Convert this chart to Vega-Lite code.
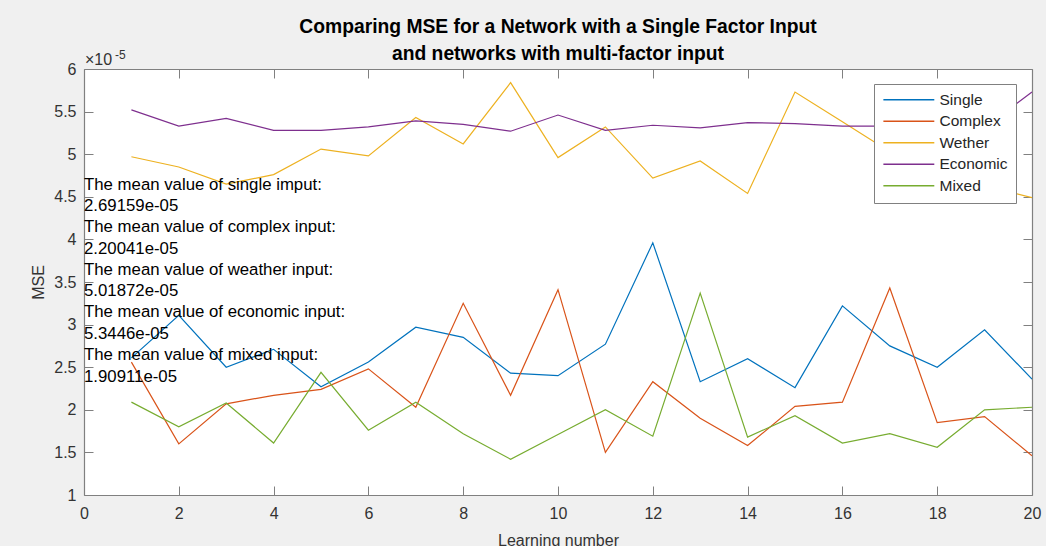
{
  "$schema": "https://vega.github.io/schema/vega-lite/v6.json",
  "width": 948,
  "height": 426,
  "autosize": "none",
  "padding": {"left": 84, "top": 69, "right": 14, "bottom": 51},
  "background": "#f0f0f0",
  "title": {
    "text": ["Comparing MSE for a Network with a Single Factor Input", "and networks with multi-factor input"],
    "font": "Liberation Sans",
    "fontSize": 19.3,
    "fontWeight": "bold",
    "color": "#000000",
    "anchor": "middle",
    "frame": "group",
    "lineHeight": 26.7,
    "offset": -15
  },
  "resolve": {"axis": {"x": "independent", "y": "independent"}},
  "config": {
    "view": {"fill": "white", "stroke": null},
    "axis": {
      "grid": false,
      "labelFlush": false,
      "domainColor": "#808080",
      "domainWidth": 1.2,
      "tickColor": "#808080",
      "tickWidth": 1,
      "tickSize": -9,
      "labelFont": "Liberation Sans",
      "labelFontSize": 16,
      "labelColor": "#333333",
      "titleFont": "Liberation Sans",
      "titleFontSize": 16,
      "titleFontWeight": "normal",
      "titleColor": "#333333"
    },
    "legend": {
      "orient": "none",
      "legendX": 790,
      "legendY": 15,
      "padding": 8,
      "fillColor": "white",
      "strokeColor": "#808080",
      "symbolType": "M-1,0H7",
      "symbolSize": 162,
      "symbolStrokeWidth": 1.5,
      "labelFont": "Liberation Sans",
      "labelFontSize": 15.5,
      "labelColor": "#262626",
      "labelOffset": 42,
      "rowPadding": 4.5,
      "title": null
    }
  },
  "layer": [
    {
      "data": {
        "values": [
          {"n": 1, "series": "Single", "mse": 2.61},
          {"n": 2, "series": "Single", "mse": 3.11},
          {"n": 3, "series": "Single", "mse": 2.50},
          {"n": 4, "series": "Single", "mse": 2.71},
          {"n": 5, "series": "Single", "mse": 2.27},
          {"n": 6, "series": "Single", "mse": 2.56},
          {"n": 7, "series": "Single", "mse": 2.97},
          {"n": 8, "series": "Single", "mse": 2.85},
          {"n": 9, "series": "Single", "mse": 2.43},
          {"n": 10, "series": "Single", "mse": 2.40},
          {"n": 11, "series": "Single", "mse": 2.77},
          {"n": 12, "series": "Single", "mse": 3.96},
          {"n": 13, "series": "Single", "mse": 2.33},
          {"n": 14, "series": "Single", "mse": 2.60},
          {"n": 15, "series": "Single", "mse": 2.26},
          {"n": 16, "series": "Single", "mse": 3.22},
          {"n": 17, "series": "Single", "mse": 2.75},
          {"n": 18, "series": "Single", "mse": 2.50},
          {"n": 19, "series": "Single", "mse": 2.94},
          {"n": 20, "series": "Single", "mse": 2.36},
          {"n": 1, "series": "Complex", "mse": 2.56},
          {"n": 2, "series": "Complex", "mse": 1.60},
          {"n": 3, "series": "Complex", "mse": 2.07},
          {"n": 4, "series": "Complex", "mse": 2.17},
          {"n": 5, "series": "Complex", "mse": 2.24},
          {"n": 6, "series": "Complex", "mse": 2.48},
          {"n": 7, "series": "Complex", "mse": 2.03},
          {"n": 8, "series": "Complex", "mse": 3.25},
          {"n": 9, "series": "Complex", "mse": 2.17},
          {"n": 10, "series": "Complex", "mse": 3.41},
          {"n": 11, "series": "Complex", "mse": 1.50},
          {"n": 12, "series": "Complex", "mse": 2.33},
          {"n": 13, "series": "Complex", "mse": 1.90},
          {"n": 14, "series": "Complex", "mse": 1.58},
          {"n": 15, "series": "Complex", "mse": 2.04},
          {"n": 16, "series": "Complex", "mse": 2.09},
          {"n": 17, "series": "Complex", "mse": 3.43},
          {"n": 18, "series": "Complex", "mse": 1.85},
          {"n": 19, "series": "Complex", "mse": 1.92},
          {"n": 20, "series": "Complex", "mse": 1.46},
          {"n": 1, "series": "Wether", "mse": 4.97},
          {"n": 2, "series": "Wether", "mse": 4.85},
          {"n": 3, "series": "Wether", "mse": 4.65},
          {"n": 4, "series": "Wether", "mse": 4.76},
          {"n": 5, "series": "Wether", "mse": 5.06},
          {"n": 6, "series": "Wether", "mse": 4.98},
          {"n": 7, "series": "Wether", "mse": 5.43},
          {"n": 8, "series": "Wether", "mse": 5.12},
          {"n": 9, "series": "Wether", "mse": 5.84},
          {"n": 10, "series": "Wether", "mse": 4.96},
          {"n": 11, "series": "Wether", "mse": 5.32},
          {"n": 12, "series": "Wether", "mse": 4.72},
          {"n": 13, "series": "Wether", "mse": 4.92},
          {"n": 14, "series": "Wether", "mse": 4.54},
          {"n": 15, "series": "Wether", "mse": 5.73},
          {"n": 16, "series": "Wether", "mse": 5.38},
          {"n": 17, "series": "Wether", "mse": 5.03},
          {"n": 18, "series": "Wether", "mse": 4.99},
          {"n": 19, "series": "Wether", "mse": 4.63},
          {"n": 20, "series": "Wether", "mse": 4.49},
          {"n": 1, "series": "Economic", "mse": 5.52},
          {"n": 2, "series": "Economic", "mse": 5.33},
          {"n": 3, "series": "Economic", "mse": 5.42},
          {"n": 4, "series": "Economic", "mse": 5.28},
          {"n": 5, "series": "Economic", "mse": 5.28},
          {"n": 6, "series": "Economic", "mse": 5.32},
          {"n": 7, "series": "Economic", "mse": 5.39},
          {"n": 8, "series": "Economic", "mse": 5.35},
          {"n": 9, "series": "Economic", "mse": 5.27},
          {"n": 10, "series": "Economic", "mse": 5.46},
          {"n": 11, "series": "Economic", "mse": 5.28},
          {"n": 12, "series": "Economic", "mse": 5.34},
          {"n": 13, "series": "Economic", "mse": 5.31},
          {"n": 14, "series": "Economic", "mse": 5.37},
          {"n": 15, "series": "Economic", "mse": 5.36},
          {"n": 16, "series": "Economic", "mse": 5.33},
          {"n": 17, "series": "Economic", "mse": 5.33},
          {"n": 18, "series": "Economic", "mse": 5.35},
          {"n": 19, "series": "Economic", "mse": 5.31},
          {"n": 20, "series": "Economic", "mse": 5.73},
          {"n": 1, "series": "Mixed", "mse": 2.09},
          {"n": 2, "series": "Mixed", "mse": 1.80},
          {"n": 3, "series": "Mixed", "mse": 2.08},
          {"n": 4, "series": "Mixed", "mse": 1.61},
          {"n": 5, "series": "Mixed", "mse": 2.44},
          {"n": 6, "series": "Mixed", "mse": 1.76},
          {"n": 7, "series": "Mixed", "mse": 2.09},
          {"n": 8, "series": "Mixed", "mse": 1.72},
          {"n": 9, "series": "Mixed", "mse": 1.42},
          {"n": 10, "series": "Mixed", "mse": 1.71},
          {"n": 11, "series": "Mixed", "mse": 2.00},
          {"n": 12, "series": "Mixed", "mse": 1.69},
          {"n": 13, "series": "Mixed", "mse": 3.37},
          {"n": 14, "series": "Mixed", "mse": 1.68},
          {"n": 15, "series": "Mixed", "mse": 1.93},
          {"n": 16, "series": "Mixed", "mse": 1.61},
          {"n": 17, "series": "Mixed", "mse": 1.72},
          {"n": 18, "series": "Mixed", "mse": 1.56},
          {"n": 19, "series": "Mixed", "mse": 2.00},
          {"n": 20, "series": "Mixed", "mse": 2.03}
        ]
      },
      "mark": {"type": "line", "strokeWidth": 1.2, "clip": true},
      "encoding": {
        "x": {
          "field": "n", "type": "quantitative",
          "scale": {"domain": [0, 20], "nice": false, "zero": false},
          "axis": {"orient": "bottom", "values": [0, 2, 4, 6, 8, 10, 12, 14, 16, 18, 20], "format": "~g", "title": "Learning number", "labelPadding": 19, "titlePadding": 11}
        },
        "y": {
          "field": "mse", "type": "quantitative",
          "scale": {"domain": [1, 6], "nice": false, "zero": false},
          "axis": {"orient": "left", "values": [1, 1.5, 2, 2.5, 3, 3.5, 4, 4.5, 5, 5.5, 6], "format": "~g", "title": "MSE", "labelPadding": 17, "titlePadding": 7}
        },
        "color": {
          "field": "series", "type": "nominal",
          "scale": {
            "domain": ["Single", "Complex", "Wether", "Economic", "Mixed"],
            "range": ["#0072BD", "#D95319", "#EDB120", "#7E2F8E", "#77AC30"]
          },
          "legend": {}
        }
      }
    },
    {
      "data": {
        "values": [
          {"x": 0, "y": 4.5, "label": "The mean value of single imput:\n2.69159e-05"},
          {"x": 0, "y": 4.0, "label": "The mean value of complex input:\n2.20041e-05"},
          {"x": 0, "y": 3.5, "label": "The mean value of weather input:\n5.01872e-05"},
          {"x": 0, "y": 3.0, "label": "The mean value of economic input:\n5.3446e-05"},
          {"x": 0, "y": 2.5, "label": "The mean value of mixed input:\n1.90911e-05"}
        ]
      },
      "mark": {"type": "text", "align": "left", "baseline": "middle", "lineBreak": "\n", "lineHeight": 21.7, "font": "Liberation Sans", "fontSize": 16.8, "color": "#000000", "dy": -12.3},
      "encoding": {
        "x": {
          "field": "x", "type": "quantitative",
          "scale": {"domain": [0, 20], "nice": false, "zero": false},
          "axis": {"orient": "top", "values": [0, 2, 4, 6, 8, 10, 12, 14, 16, 18, 20], "labels": false, "title": null}
        },
        "y": {
          "field": "y", "type": "quantitative",
          "scale": {"domain": [1, 6], "nice": false, "zero": false},
          "axis": {"orient": "right", "values": [1, 1.5, 2, 2.5, 3, 3.5, 4, 4.5, 5, 5.5, 6], "labels": false, "title": null}
        },
        "text": {"field": "label", "type": "nominal"}
      }
    },
    {
      "data": {
        "values": [
          {"x": 0, "y": 6, "label": "×10"}
        ]
      },
      "mark": {"type": "text", "align": "left", "baseline": "middle", "font": "Liberation Sans", "fontSize": 16, "color": "#333333", "dx": 1, "dy": -9},
      "encoding": {
        "x": {"field": "x", "type": "quantitative", "axis": null},
        "y": {"field": "y", "type": "quantitative", "axis": null},
        "text": {"field": "label", "type": "nominal"}
      }
    },
    {
      "data": {
        "values": [
          {"x": 0, "y": 6, "label": "-5"}
        ]
      },
      "mark": {"type": "text", "align": "left", "baseline": "middle", "font": "Liberation Sans", "fontSize": 12, "color": "#333333", "dx": 31, "dy": -14},
      "encoding": {
        "x": {"field": "x", "type": "quantitative", "axis": null},
        "y": {"field": "y", "type": "quantitative", "axis": null},
        "text": {"field": "label", "type": "nominal"}
      }
    }
  ]
}
